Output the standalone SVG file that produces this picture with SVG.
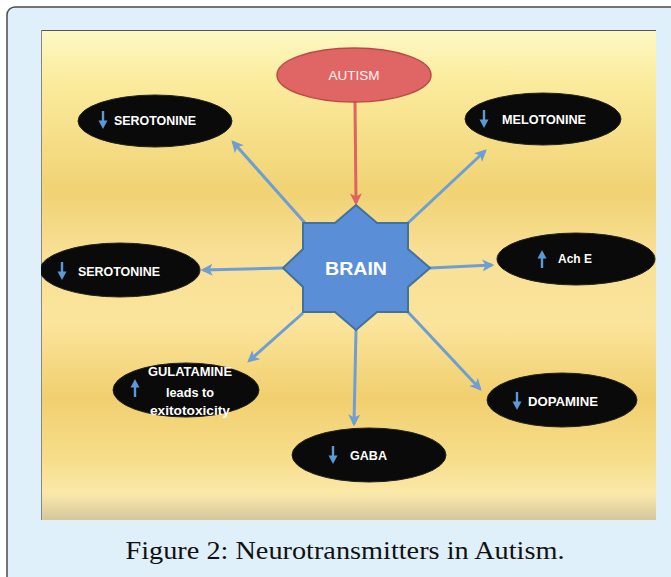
<svg xmlns="http://www.w3.org/2000/svg" width="671" height="577" viewBox="0 0 671 577">
  <defs>
    <linearGradient id="bg" x1="0" y1="0" x2="0" y2="1">
      <stop offset="0" stop-color="#fdf9c6"/>
      <stop offset="0.1" stop-color="#fbec9e"/>
      <stop offset="0.33" stop-color="#f1d274"/>
      <stop offset="0.46" stop-color="#f8e096"/>
      <stop offset="0.6" stop-color="#fbe49b"/>
      <stop offset="0.75" stop-color="#f1cf6f"/>
      <stop offset="0.88" stop-color="#f7de8b"/>
      <stop offset="0.945" stop-color="#fbe9aa"/>
      <stop offset="1" stop-color="#d5c79d"/>
    </linearGradient>
    <marker id="headb" viewBox="0 0 10 10" refX="8" refY="5" markerWidth="4" markerHeight="4" orient="auto" markerUnits="strokeWidth">
      <path d="M0,0 L10,5 L0,10 L2.5,5 z" fill="#6f9ed4"/>
    </marker>
    <marker id="headr" viewBox="0 0 10 10" refX="8" refY="5" markerWidth="4" markerHeight="4" orient="auto" markerUnits="strokeWidth">
      <path d="M0,0 L10,5 L0,10 L2.5,5 z" fill="#e0645e"/>
    </marker>
    <g id="down">
      <path d="M0,-9 V3" stroke="#5b9bd5" stroke-width="2.4" fill="none"/>
      <path d="M-4.5,0.5 L4.5,0.5 L0,9 z" fill="#5b9bd5"/>
    </g>
    <g id="up">
      <path d="M0,9 V-3" stroke="#5b9bd5" stroke-width="2.4" fill="none"/>
      <path d="M-4.5,-0.5 L4.5,-0.5 L0,-9 z" fill="#5b9bd5"/>
    </g>
    <clipPath id="clip">
      <rect x="41" y="30" width="615" height="490"/>
    </clipPath>
  </defs>
  <style>
    .oval { fill: #0a0a0a; stroke: #222; stroke-width: 1; }
    .lbl { fill: #ffffff; font-family: "Liberation Sans", Arial, sans-serif; font-weight: bold; font-size: 13.5px; }
    .conn { stroke: #6f9ed4; stroke-width: 3; fill: none; marker-end: url(#headb); }
  </style>

  <rect x="7" y="7" width="720" height="620" rx="8" fill="#dff0fb" stroke="#4a4a4a" stroke-width="1.5"/>
  <rect x="41" y="30" width="615" height="490" fill="url(#bg)"/>
  <line x1="41" y1="30.5" x2="656" y2="30.5" stroke="#555" stroke-width="1"/>
  <line x1="41.5" y1="30" x2="41.5" y2="520" stroke="#888" stroke-width="1"/>

  <g clip-path="url(#clip)">
    <g id="connectors">
      <line x1="355" y1="102" x2="356" y2="203" stroke="#e0645e" stroke-width="3" marker-end="url(#headr)"/>
      <line class="conn" x1="305" y1="223" x2="233" y2="142"/>
      <line class="conn" x1="283" y1="268" x2="203" y2="270"/>
      <line class="conn" x1="303" y1="313" x2="249" y2="361"/>
      <line class="conn" x1="408" y1="223" x2="485" y2="151"/>
      <line class="conn" x1="430" y1="268" x2="492" y2="265"/>
      <line class="conn" x1="408" y1="312" x2="480" y2="389"/>
      <line class="conn" x1="356" y1="330" x2="354" y2="424"/>
    </g>

    <g id="autism">
      <ellipse cx="354" cy="75" rx="77" ry="27" fill="#e06666" stroke="#b94a48" stroke-width="1.5"/>
      <text x="354" y="80" text-anchor="middle" font-family="Liberation Sans, Arial, sans-serif" font-size="13.5" fill="#fff3f3" textLength="51" lengthAdjust="spacingAndGlyphs">AUTISM</text>
    </g>

    <g id="brain">
      <polygon points="356,205 377,223 408,223 408,249 430,268 408,287 408,312 377,312 356,330 335,312 303,312 303,287 283,268 303,249 303,223 335,223" fill="#5a8fd8" stroke="#41719c" stroke-width="2" stroke-linejoin="miter"/>
      <text x="356" y="275" text-anchor="middle" font-family="Liberation Sans, Arial, sans-serif" font-weight="bold" font-size="19" fill="#ffffff" textLength="62" lengthAdjust="spacingAndGlyphs">BRAIN</text>
    </g>

    <g id="serotonine-top">
      <ellipse class="oval" cx="155" cy="121" rx="77" ry="26"/>
      <use href="#down" x="103" y="120"/>
      <text class="lbl" x="114" y="125" textLength="82" lengthAdjust="spacingAndGlyphs">SEROTONINE</text>
    </g>

    <g id="melotonine">
      <ellipse class="oval" cx="543" cy="119" rx="78" ry="26"/>
      <use href="#down" x="484" y="119"/>
      <text class="lbl" x="502" y="124" textLength="84" lengthAdjust="spacingAndGlyphs">MELOTONINE</text>
    </g>

    <g id="serotonine-left">
      <ellipse class="oval" cx="120" cy="270" rx="80" ry="27"/>
      <use href="#down" x="62" y="271"/>
      <text class="lbl" x="78" y="276" textLength="82" lengthAdjust="spacingAndGlyphs">SEROTONINE</text>
    </g>

    <g id="ache">
      <ellipse class="oval" cx="576" cy="259" rx="79" ry="26"/>
      <use href="#up" x="542" y="259"/>
      <text class="lbl" x="558" y="263" textLength="34" lengthAdjust="spacingAndGlyphs">Ach E</text>
    </g>

    <g id="gulatamine">
      <ellipse class="oval" cx="186" cy="390" rx="73" ry="27"/>
      <use href="#up" x="135" y="388"/>
      <text class="lbl" x="190" y="376" text-anchor="middle" textLength="84" lengthAdjust="spacingAndGlyphs">GULATAMINE</text>
      <text class="lbl" x="190" y="397" text-anchor="middle" textLength="48" lengthAdjust="spacingAndGlyphs">leads to</text>
      <text class="lbl" x="190" y="415" text-anchor="middle" textLength="80" lengthAdjust="spacingAndGlyphs">exitotoxicity</text>
    </g>

    <g id="dopamine">
      <ellipse class="oval" cx="562" cy="400" rx="75" ry="27"/>
      <use href="#down" x="517" y="401"/>
      <text class="lbl" x="528" y="406" textLength="70" lengthAdjust="spacingAndGlyphs">DOPAMINE</text>
    </g>

    <g id="gaba">
      <ellipse class="oval" cx="369" cy="455" rx="77" ry="27"/>
      <use href="#down" x="333" y="455"/>
      <text class="lbl" x="350" y="460" textLength="37" lengthAdjust="spacingAndGlyphs">GABA</text>
    </g>
  </g>

  <text x="345" y="559" text-anchor="middle" font-family="Liberation Serif, 'Times New Roman', serif" font-size="25" fill="#111" textLength="439" lengthAdjust="spacingAndGlyphs">Figure 2: Neurotransmitters in Autism.</text>
</svg>
